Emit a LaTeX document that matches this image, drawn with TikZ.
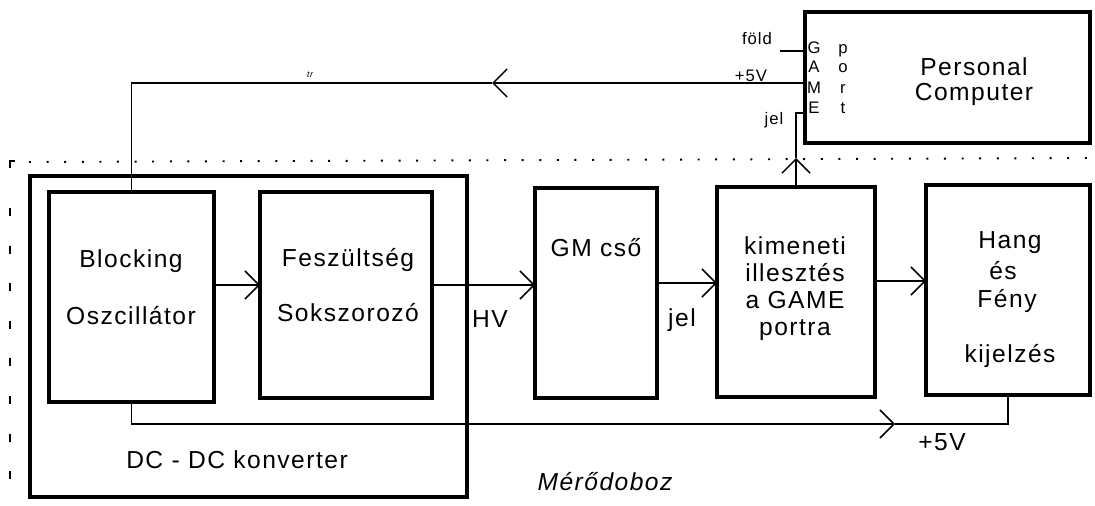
\documentclass[tikz,border=0pt]{standalone}
\usepackage{fontspec}
\setmainfont{Liberation Sans}[LetterSpace=6]
\usetikzlibrary{arrows.meta}

\begin{document}
\begin{tikzpicture}[x=0.02cm, y=-0.02cm,
    blokk/.style 2 args={draw, line width=2.6pt, minimum width=#1*0.02cm, minimum height=#2*0.02cm, inner sep=0pt, outer sep=0pt},
    vezetek/.style={line width=0.85pt},
    nyil/.style={-{Straight Barb[length=0.28cm, width=0.56cm]}},
    szoveg/.style={font=\fontsize{14}{16}\selectfont, anchor=base, inner sep=0pt},
    kisbetu/.style={font=\fontsize{9.5}{11}\selectfont, anchor=base, inner sep=0pt}]
    \useasboundingbox (0,0) rectangle (1095,506);

    % Mérődoboz határa (pontozott)
    \draw[line width=1.1pt, dash pattern=on 0.04cm off 0.312cm] (29,162) -- (1095,158);
    \draw[line width=1.1pt] (10,168) -- (10,161) -- (15,161);
    \draw[line width=1.1pt, dash pattern=on 0.16cm off 0.592cm] (10,208) -- (10,506);

    % Blokkok
    \node[blokk={285}{131}] (pc) at (947.5,77.5) {};
    \node[blokk={437}{321}] (dc) at (248.5,336.5) {};
    \node[blokk={165}{210}] (bo) at (131.5,297) {};
    \node[blokk={172}{206}] (fs) at (346,295) {};
    \node[blokk={122}{210}] (gm) at (596,293) {};
    \node[blokk={158}{210}] (ki) at (796,292) {};
    \node[blokk={164}{210}] (hf) at (1008,290) {};

    % Személyi számítógép és GAME port
    \node[szoveg] (pc1) at (974,76) {Personal};
    \node[szoveg] (pc2) at (974,101) {Computer};
    \foreach \b/\y in {G/54, A/73, M/94, E/114}
        \node[kisbetu] (game-\b) at (814,\y) {\b};
    \foreach \b/\y in {p/54, o/73, r/94, t/114}
        \node[kisbetu] (port-\b) at (843,\y) {\b};
    \node[kisbetu] (fold-t) at (757,45) {föld};
    \node[kisbetu] (tap-t) at (751,82) {+5V};
    \node[kisbetu] (jel-t) at (774,125) {jel};
    \node[font=\fontsize{5}{6}\selectfont\itshape, anchor=base, inner sep=0pt] (tr) at (310,78) {tr};

    % Feliratok a dobozokban
    \node[szoveg] (bo1) at (131,268) {Blocking};
    \node[szoveg] (bo2) at (131,325) {Oszcillátor};
    \node[szoveg] (fs1) at (348,267) {Feszültség};
    \node[szoveg] (fs2) at (348,322) {Sokszorozó};
    \node[szoveg] (gm1) at (596,257) {GM cső};
    \node[szoveg] (ki1) at (795,255) {kimeneti};
    \node[szoveg] (ki2) at (795,282) {illesztés};
    \node[szoveg] (ki3) at (795,309) {a GAME};
    \node[szoveg] (ki4) at (795,336) {portra};
    \node[szoveg] (hf1) at (1010,249) {Hang};
    \node[szoveg] (hf2) at (1003,280) {és};
    \node[szoveg] (hf3) at (1007,308) {Fény};
    \node[szoveg] (hf4) at (1010,362) {kijelzés};
    \node[szoveg] (dc1) at (237,468) {DC - DC konverter};

    % Jelek a vezetékeken
    \node[szoveg] (hv) at (490,328) {HV};
    \node[szoveg] (jel) at (682,327) {jel};
    \node[szoveg] (tap2) at (942,450) {+5V};
    \node[szoveg, font=\fontsize{14}{16}\selectfont\itshape] (merodoboz) at (605,490) {Mérődoboz};

    % Jelút
    \coordinate (s1) at (0,285);
    \coordinate (s2) at (0,283);
    \coordinate (s3) at (0,281);
    \draw[vezetek, nyil] (bo.east |- s1) -- (fs.west |- s1);
    \draw[vezetek, nyil] (fs.east |- s1) -- (gm.west |- s1);
    \draw[vezetek, nyil] (gm.east |- s2) -- (ki.west |- s2);
    \draw[vezetek, nyil] (ki.east |- s3) -- (hf.west |- s3);

    % Tápfeszültség a PC-ről
    \coordinate (tap) at (492,83);
    \draw[vezetek, nyil] (pc.west |- tap) -- (tap);
    \draw[vezetek] (tap) -- (bo.north |- tap) -- (bo.north);

    % Föld
    \coordinate (fold) at (780,51);
    \draw[vezetek] (fold) -- (pc.west |- fold);

    % Kimenet a GAME portra
    \coordinate (jelnyil) at (796,158);
    \coordinate (jelsarok) at (796,113);
    \draw[vezetek, nyil] (ki.north) -- (jelnyil);
    \draw[vezetek] (jelnyil) -- (jelsarok) -- (pc.west |- jelsarok);

    % +5V a kijelzőnek
    \coordinate (also) at (895,424);
    \draw[vezetek, nyil] (bo.south) -- (bo.south |- also) -- (also);
    \draw[vezetek] (also) -- (hf.south |- also) -- (hf.south);
\end{tikzpicture}
\end{document}
